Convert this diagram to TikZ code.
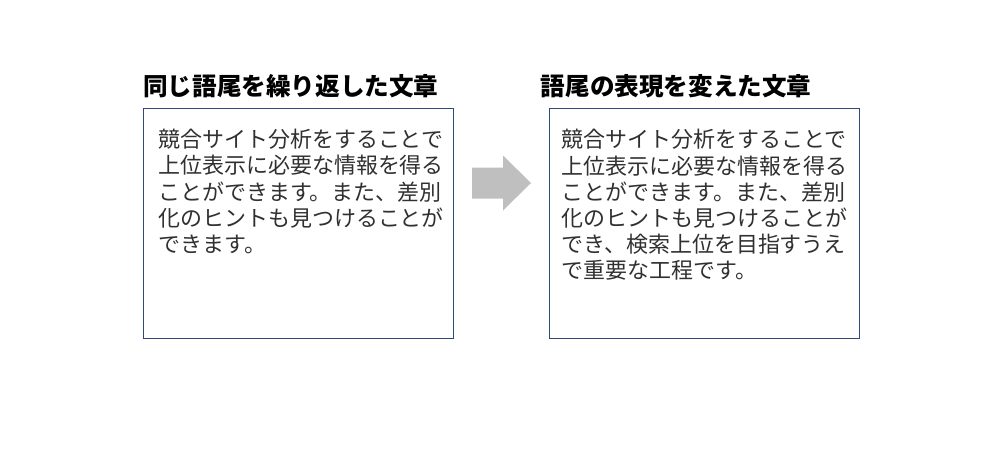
\documentclass[tikz,border=0pt]{standalone}
\usepackage{fontspec}
\setmainfont{Noto Sans CJK JP}
\usetikzlibrary{positioning}
\definecolor{boxline}{HTML}{2F4A7A}
\definecolor{bodytext}{HTML}{303030}
\definecolor{arrowgray}{HTML}{BFBFBF}

\begin{document}
\begin{tikzpicture}[
  panel/.style={draw=boxline, line width=0.7pt, minimum width=6.19cm, minimum height=4.6cm, inner sep=0pt, anchor=north west},
  heading/.style={font=\fontsize{14pt}{16pt}\selectfont\bfseries, inner sep=0pt, anchor=west},
  body/.style={font=\fontsize{12.5pt}{14.9pt}\selectfont, text=bodytext, align=left, inner sep=0pt, anchor=north west}]
  \useasboundingbox (0,0) rectangle (20,-9.02);

  \node[panel] (before) at (2.86,-2.16) {};
  \node[panel] (after) at (10.98,-2.16) {};

  \node[heading] (beforetitle) at (2.86,-1.72) {同じ語尾を繰り返した文章};
  \node[heading] (aftertitle) at (10.81,-1.72) {語尾の表現を変えた文章};

  \node[body] (beforetext) at ([xshift=0.3cm, yshift=-0.42cm]before.north west)
    {競合サイト分析をすることで\\上位表示に必要な情報を得る\\ことができます。また、差別\\化のヒントも見つけることが\\できます。};
  \node[body] (aftertext) at ([xshift=0.25cm, yshift=-0.42cm]after.north west)
    {競合サイト分析をすることで\\上位表示に必要な情報を得る\\ことができます。また、差別\\化のヒントも見つけることが\\でき、検索上位を目指すうえ\\で重要な工程です。};

  % block arrow between the panels
  \coordinate (tail) at (9.44,-3.66);
  \coordinate (tip) at (10.62,-3.66);
  \fill[arrowgray] ([yshift=0.31cm]tail) -- ++(0.62,0) -- ++(0,0.24) -- (tip)
    -- ([xshift=0.62cm, yshift=-0.55cm]tail) -- ++(0,0.24) -- ([yshift=-0.31cm]tail) -- cycle;
\end{tikzpicture}
\end{document}
